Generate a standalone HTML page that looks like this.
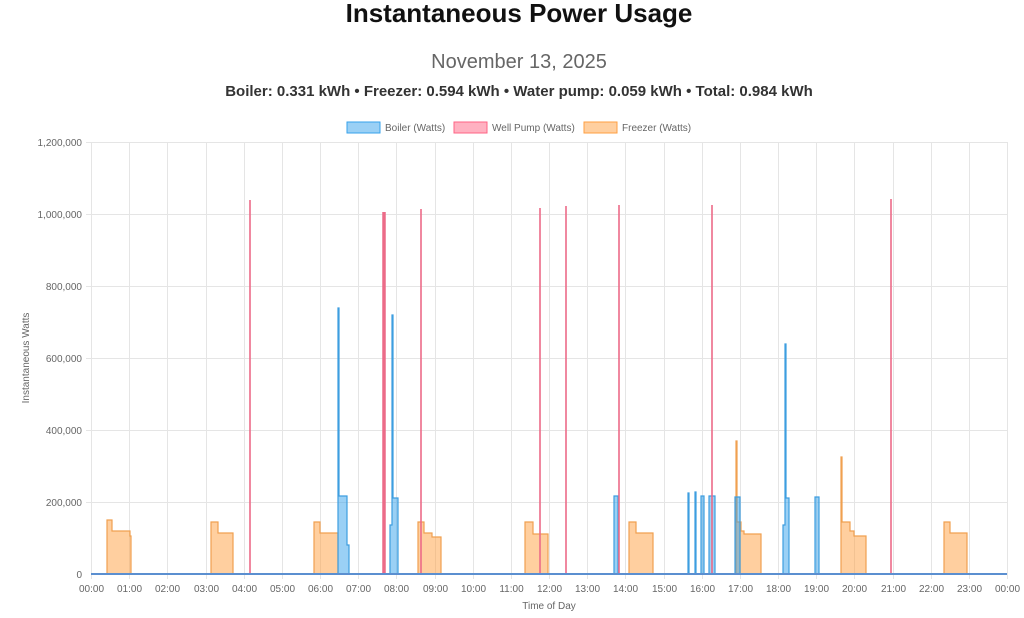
<!DOCTYPE html>
<html><head><meta charset="utf-8"><style>
body{margin:0;background:#fff;width:1024px;height:613px;overflow:hidden;font-family:"Liberation Sans",sans-serif}
svg text{font-family:"Liberation Sans",sans-serif}
</style></head><body>
<svg width="1024" height="613" xmlns="http://www.w3.org/2000/svg">
<text x="519" y="22" text-anchor="middle" font-size="26" font-weight="bold" fill="#111">Instantaneous Power Usage</text>
<text x="519" y="68" text-anchor="middle" font-size="20" fill="#666">November 13, 2025</text>
<text x="519" y="96" text-anchor="middle" font-size="15" font-weight="bold" fill="#333">Boiler: 0.331 kWh • Freezer: 0.594 kWh • Water pump: 0.059 kWh • Total: 0.984 kWh</text>
<!-- legend -->
<rect x="347" y="122" width="33" height="11" fill="#9ad0f5" stroke="#36a2eb"/>
<text x="385" y="131" font-size="10" fill="#666">Boiler (Watts)</text>
<rect x="454" y="122" width="33" height="11" fill="#ffb1c1" stroke="#ff6384"/>
<text x="492" y="131" font-size="10" fill="#666">Well Pump (Watts)</text>
<rect x="584" y="122" width="33" height="11" fill="#ffcf9f" stroke="#ff9f40"/>
<text x="622" y="131" font-size="10" fill="#666">Freezer (Watts)</text>
<!-- grid -->
<g stroke="#e5e5e5" stroke-width="1">
<line x1="86" y1="142.5" x2="1007" y2="142.5"/><line x1="86" y1="214.5" x2="1007" y2="214.5"/>
<line x1="86" y1="286.5" x2="1007" y2="286.5"/><line x1="86" y1="358.5" x2="1007" y2="358.5"/>
<line x1="86" y1="430.5" x2="1007" y2="430.5"/><line x1="86" y1="502.5" x2="1007" y2="502.5"/>
</g>
<g stroke="#e5e5e5" id="vg"></g>
<g font-size="10" fill="#666" text-anchor="end">
<text x="82" y="146">1,200,000</text><text x="82" y="218">1,000,000</text><text x="82" y="290">800,000</text>
<text x="82" y="362">600,000</text><text x="82" y="434">400,000</text><text x="82" y="506">200,000</text><text x="82" y="578">0</text>
</g>
<g id="xl" font-size="10" fill="#666" text-anchor="middle"></g>
<text x="549" y="609" text-anchor="middle" font-size="10" fill="#666">Time of Day</text>
<text transform="translate(29,358) rotate(-90)" text-anchor="middle" font-size="10" fill="#666">Instantaneous Watts</text>
<!-- freezer -->
<g fill="rgba(255,159,64,0.5)" stroke="#f0a050" stroke-width="1.2">
<path d="M107,574V520H112V531H130V536H131V574Z"/>
<path d="M211,574V522H218V533H233V574Z"/>
<path d="M314,574V522H320V533H338V574Z"/>
<path d="M418,574V522H424V533H432V537H441V574Z"/>
<path d="M525,574V522H533V534H548V574Z"/>
<path d="M629,574V522H636V533H653V574Z"/>
<path d="M736,574V441H737V522H741V531H744V534H761V574Z"/>
<path d="M841,574V457H842V522H850V531H854V536H866V574Z"/>
<path d="M944,574V522H950V533H967V574Z"/>
</g>
<!-- boiler -->
<g fill="rgba(54,162,235,0.5)" stroke="#3d9ee0" stroke-width="1.2">
<path d="M338,574V308H339V496H347V545H349V574Z"/>
<path d="M390,574V525H392V315H393V498H398V574Z"/>
<path d="M614,574V496H618V574Z"/>
<path d="M688,574V493H689V574Z"/>
<path d="M695,574V492H696V574Z"/>
<path d="M701,574V496H704V574Z"/>
<path d="M709,574V496H715V574Z"/>
<path d="M735,574V497H740V574Z"/>
<path d="M783,574V525H785V344H786V498H789V574Z"/>
<path d="M815,574V497H819V574Z"/>
</g>
<!-- pump -->
<g stroke="#ec6b88" stroke-width="1.6">
<line x1="250" y1="574" x2="250" y2="200"/>
<line x1="384" y1="574" x2="384" y2="212" stroke-width="3.5"/>
<line x1="421" y1="574" x2="421" y2="209"/>
<line x1="540" y1="574" x2="540" y2="208"/>
<line x1="566" y1="574" x2="566" y2="206"/>
<line x1="619" y1="574" x2="619" y2="205"/>
<line x1="712" y1="574" x2="712" y2="205"/>
<line x1="891" y1="574" x2="891" y2="199"/>
</g>
<line x1="91" y1="574" x2="1007" y2="574" stroke="#5b8fd0" stroke-width="2"/>
<script>
var vg=document.getElementById('vg'),xl=document.getElementById('xl'),ns='http://www.w3.org/2000/svg';
for(var h=0;h<=24;h++){var x=Math.round(91+h*916/24)+0.5;
var l=document.createElementNS(ns,'line');l.setAttribute('x1',x);l.setAttribute('x2',x);l.setAttribute('y1',142);l.setAttribute('y2',579);vg.appendChild(l);
var t=document.createElementNS(ns,'text');t.setAttribute('x',x);t.setAttribute('y',592);t.textContent=(h%24<10?'0':'')+(h%24)+':00';xl.appendChild(t);}
</script>
</svg>
</body></html>
